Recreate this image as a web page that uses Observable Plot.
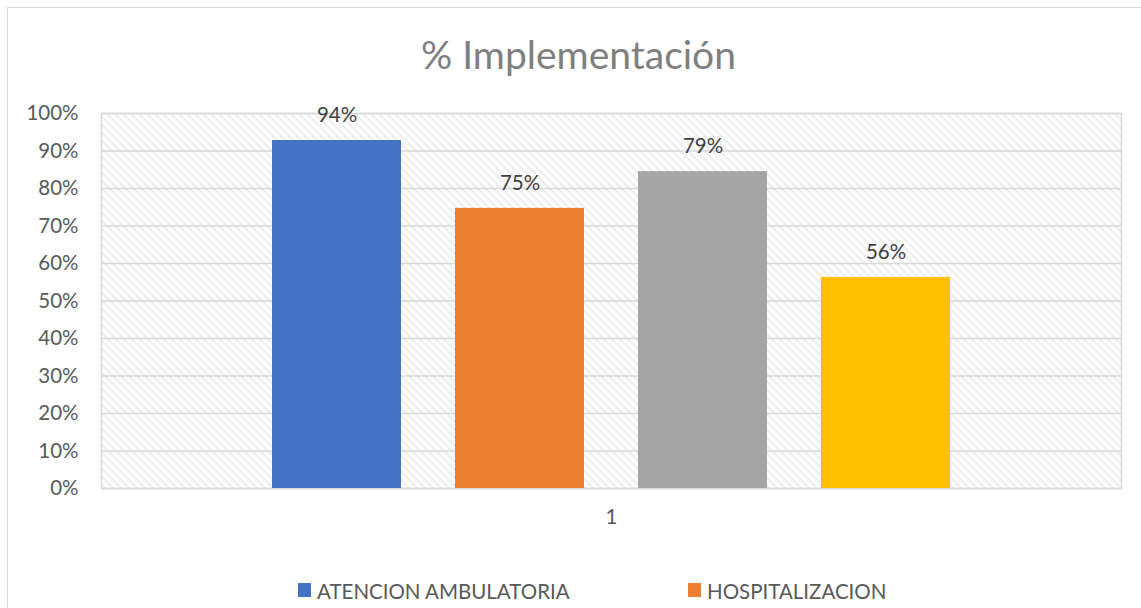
<!DOCTYPE html>
<html><head><meta charset="utf-8">
<script src="https://cdn.jsdelivr.net/npm/d3@7"></script>
<script src="https://cdn.jsdelivr.net/npm/@observablehq/plot@0.6"></script>
<style>
body{margin:0;background:#fff;width:1141px;height:608px;overflow:hidden;position:relative;font-family:Lato,"Open Sans",sans-serif;}
#border{position:absolute;left:7px;top:7px;width:1300px;height:800px;border:1.5px solid #d9d9d9;}
#title{position:absolute;left:0;top:29px;width:1157px;text-align:center;font-size:39px;color:#7f7f7f;line-height:50px;white-space:nowrap}
#chart{position:absolute;left:0;top:95px}
.lg{position:absolute;top:577px;height:28px;line-height:28px;font-size:20.5px;color:#595959;white-space:nowrap}
.sw{position:absolute;top:5px;width:13px;height:14px}
</style>
</head><body>
<div id="border"></div>
<div id="title">% Implementación</div>
<div id="chart"></div>
<div id="legend"></div>
<script>
const category = ["1"];
const series = ["ATENCION AMBULATORIA", "HOSPITALIZACION", "Serie 3", "Serie 4"];
const values = [0.928, 0.747, 0.845, 0.563];
const labels = ["94%", "75%", "79%", "56%"];
const colors = ["#4472C4", "#ED7D31", "#A5A5A5", "#FFC000"];
const yTicks = [0, 0.1, 0.2, 0.3, 0.4, 0.5, 0.6, 0.7, 0.8, 0.9, 1.0];
const legendShown = ["ATENCION AMBULATORIA", "HOSPITALIZACION"];

const data = series.map((s, i) => ({cat: category[0], series: s, value: values[i], label: labels[i]}));

const chart = Plot.plot({
  width: 1141, height: 450,
  marginTop: 18, marginBottom: 57, marginLeft: 101, marginRight: 20,
  style: {fontFamily: "Lato, 'Open Sans', sans-serif", fontSize: "20.5px", color: "#595959", background: "transparent", overflow: "visible"},
  fx: {domain: category, padding: 0, label: null, axis: "bottom", tickSize: 0, tickPadding: 21},
  x: {domain: series, paddingInner: 0.296, paddingOuter: 0.93, axis: null},
  y: {domain: [0, 1], ticks: yTicks, tickFormat: d => Math.round(d * 100) + "%", label: null, tickSize: 0, tickPadding: 23},
  color: {domain: series, range: colors},
  marks: [
    Plot.frame({fill: "url(#hatch)", stroke: "#d9d9d9", strokeWidth: 1.5}),
    Plot.gridY(yTicks, {stroke: "#d9d9d9", strokeOpacity: 1, strokeWidth: 1.5}),
    Plot.barY(data, {fx: "cat", x: "series", y: "value", fill: "series"}),
    Plot.text(data, {fx: "cat", x: "series", y: "value", text: "label", dy: -25, fill: "#404040", fontSize: 20.5})
  ]
});

const svg = d3.select(chart);
const defs = svg.insert("defs", ":first-child");
const pat = defs.append("pattern").attr("id", "hatch").attr("patternUnits", "userSpaceOnUse")
  .attr("width", 8).attr("height", 8);
pat.append("rect").attr("width", 8).attr("height", 8).attr("fill", "#fff");
[[0,0,8,8],[-4,4,4,12],[4,-4,12,4]].forEach(([x1,y1,x2,y2]) => {
  pat.append("line").attr("x1", x1).attr("y1", y1).attr("x2", x2).attr("y2", y2)
    .attr("stroke", "#d4d4d4").attr("stroke-width", 1.8).attr("stroke-dasharray", "1.4 1.4");
});
document.getElementById("chart").appendChild(chart);

const legendPos = {"ATENCION AMBULATORIA": 298, "HOSPITALIZACION": 688};
const lg = document.getElementById("legend");
legendShown.forEach(name => {
  const i = series.indexOf(name);
  const x = legendPos[name];
  const sw = document.createElement("div");
  sw.className = "sw"; sw.style.left = x + "px"; sw.style.top = "583px"; sw.style.background = colors[i];
  lg.appendChild(sw);
  const t = document.createElement("div");
  t.className = "lg"; t.style.left = (x + 19) + "px"; t.textContent = name;
  lg.appendChild(t);
});
</script>
</body></html>
